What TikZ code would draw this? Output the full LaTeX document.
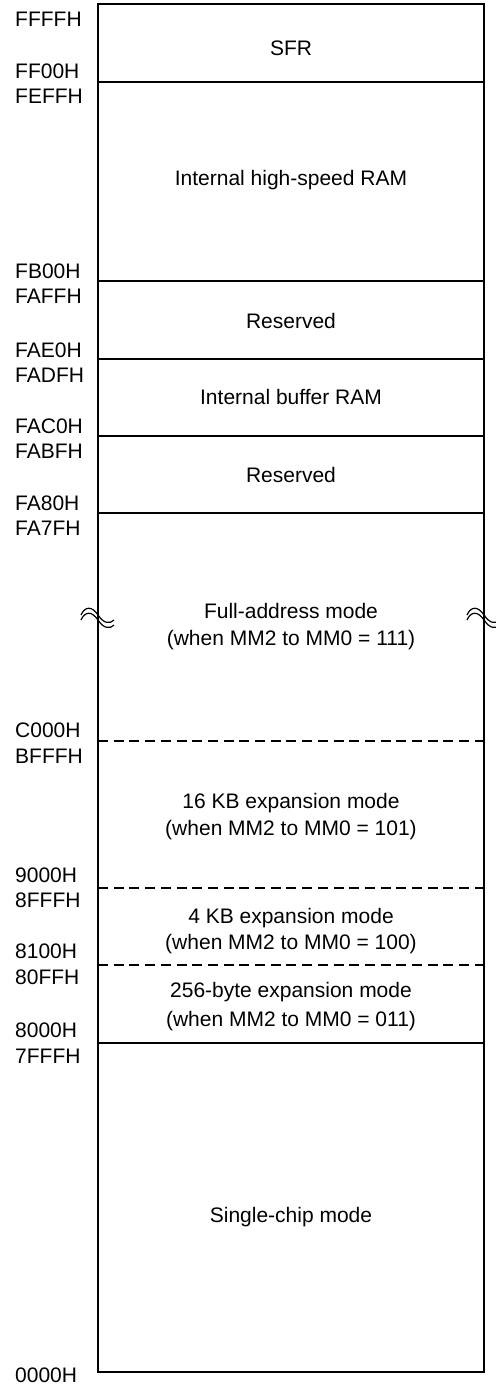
\documentclass[tikz,border=0pt]{standalone}
\usepackage{fontspec}
\setmainfont{Liberation Sans}
\begin{document}
\begin{tikzpicture}[x=1pt,y=-1pt,
  addr/.style={anchor=base west, inner sep=0pt, font=\fontsize{21}{25}\selectfont},
  area/.style={anchor=base, inner sep=0pt, font=\fontsize{21}{25}\selectfont},
  outer/.style={line width=2.9pt},
  sep/.style={line width=1.4pt},
  dsep/.style={line width=1.3pt, dash pattern=on 10pt off 5.7pt},
  brk/.style={line width=1.2pt}]
\useasboundingbox (0,0) rectangle (495,1386);
% box corners
\coordinate (tl) at (98,4);
\coordinate (br) at (484,1372);
% separators
\foreach \y in {82,281,359,436,513,1043} \draw[sep] (98,\y) -- (484,\y);
\foreach \y in {741,888,965} \draw[dsep] (98,\y) -- (484,\y);
\draw[outer] (tl) rectangle (br);
% break marks
\foreach \cx in {98,484} \foreach \dy in {0,5}
  \draw[brk] (\cx-17,615+\dy) .. controls (\cx-13,606+\dy) and (\cx-6,606+\dy) .. (\cx,615+\dy)
     .. controls (\cx+6,624+\dy) and (\cx+12,624+\dy) .. (\cx+16,620+\dy);
% address labels
\node[addr] (aFFFF) at (15,26.5) {FFFFH};
\node[addr] (aFF00) at (15,78.5) {FF00H};
\node[addr] (aFEFF) at (15,103.5) {FEFFH};
\node[addr] (aFB00) at (15,278) {FB00H};
\node[addr] (aFAFF) at (15,303.5) {FAFFH};
\node[addr] (aFAE0) at (15,357) {FAE0H};
\node[addr] (aFADF) at (15,382) {FADFH};
\node[addr] (aFAC0) at (15,433) {FAC0H};
\node[addr] (aFABF) at (15,458) {FABFH};
\node[addr] (aFA80) at (15,510) {FA80H};
\node[addr] (aFA7F) at (15,535) {FA7FH};
\node[addr] (aC000) at (15,737.5) {C000H};
\node[addr] (aBFFF) at (15,763) {BFFFH};
\node[addr] (a9000) at (15,882) {9000H};
\node[addr] (a8FFF) at (15,907) {8FFFH};
\node[addr] (a8100) at (15,958.5) {8100H};
\node[addr] (a80FF) at (15,984.5) {80FFH};
\node[addr] (a8000) at (15,1037.5) {8000H};
\node[addr] (a7FFF) at (15,1063.5) {7FFFH};
\node[addr] (a0000) at (15,1382.5) {0000H};
% area texts
\node[area] (sfr) at (291,55.5) {SFR};
\node[area] (hsram) at (291,185) {Internal high-speed RAM};
\node[area] (res1) at (291,328) {Reserved};
\node[area] (bufram) at (291,404.5) {Internal buffer RAM};
\node[area] (res2) at (291,482) {Reserved};
\node[area] (full1) at (291,618) {Full-address mode};
\node[area] (full2) at (291,645) {(when MM2 to MM0 = 111)};
\node[area] (k16a) at (291,808.5) {16 KB expansion mode};
\node[area] (k16b) at (291,835) {(when MM2 to MM0 = 101)};
\node[area] (k4a) at (291,923) {4 KB expansion mode};
\node[area] (k4b) at (291,949) {(when MM2 to MM0 = 100)};
\node[area] (b256a) at (291,997.5) {256-byte expansion mode};
\node[area] (b256b) at (291,1026) {(when MM2 to MM0 = 011)};
\node[area] (single) at (291,1222) {Single-chip mode};
\end{tikzpicture}
\end{document}
